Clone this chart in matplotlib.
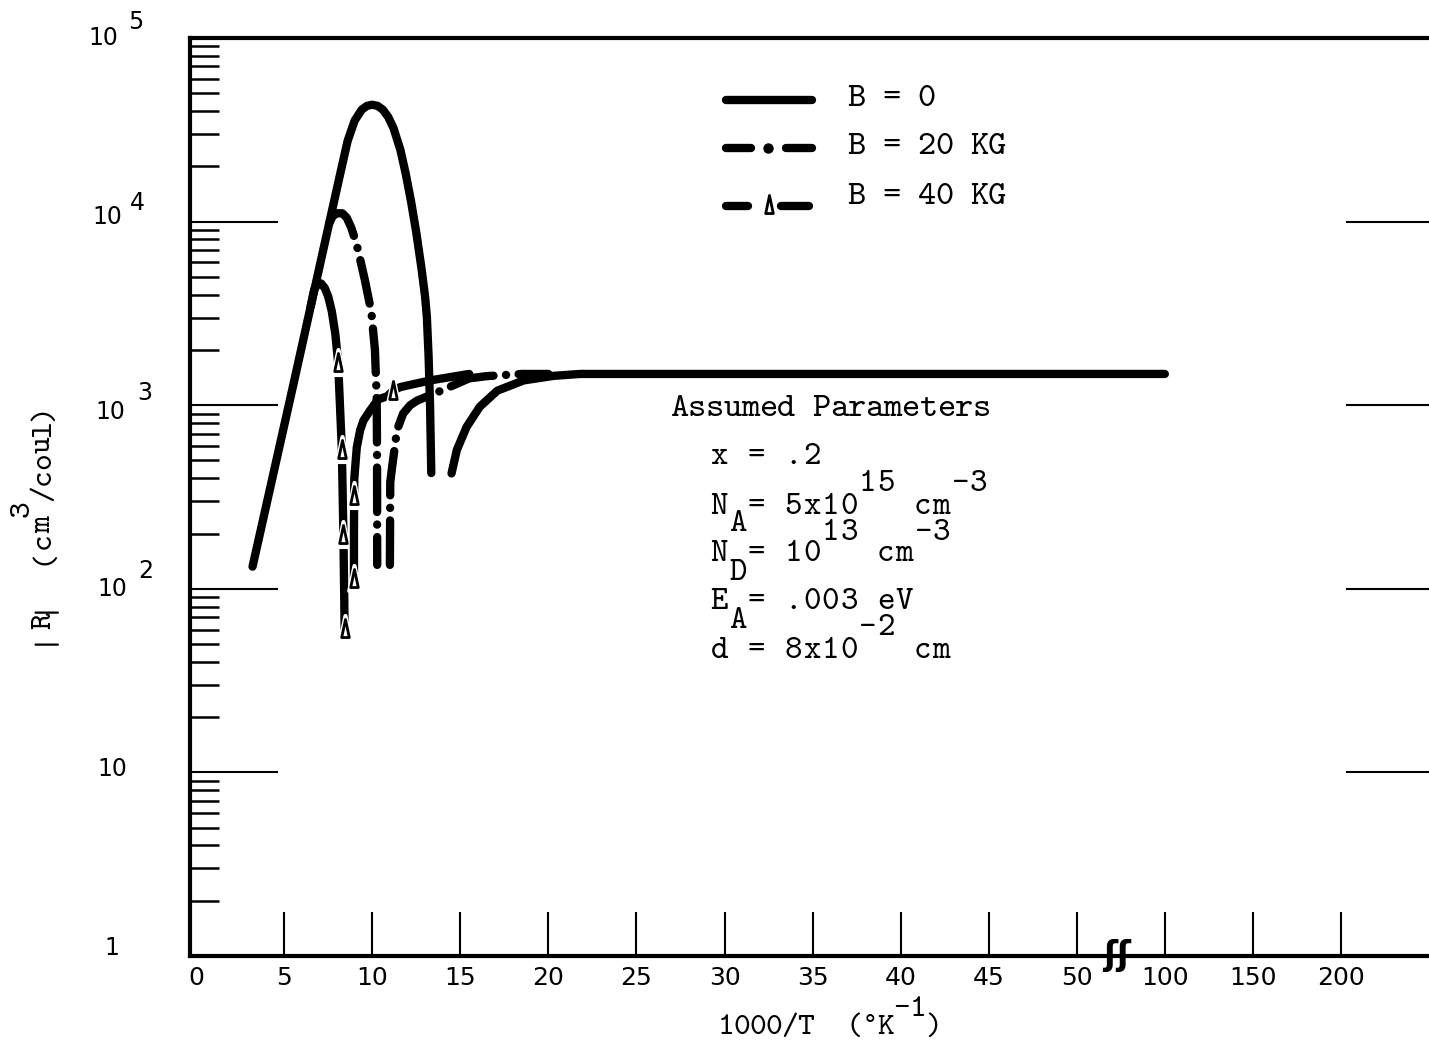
import numpy as np
import matplotlib.pyplot as plt
from matplotlib.path import Path
from matplotlib.ticker import LogLocator, NullFormatter
import matplotlib.transforms as mtransforms

plt.rcParams['lines.scale_dashes'] = False

W, H = 1429, 1044
TT = ['cmtt10', 'DejaVu Sans Mono']
SANS = 'DejaVu Sans'
LW = 6

# 1000/T (K^-1) and |R| (cm^3/coul)
x_b0 = [3.2, 5.45, 7.55, 8.2, 8.6, 9.0, 9.4, 9.7, 10.0, 10.3, 10.6, 10.9, 11.2, 11.6,
        11.9, 12.2, 12.5, 12.8, 13.0, 13.1, 13.2, 13.28, 13.35]
r_b0 = [132, 1210, 9770, 18600, 27500, 35500, 40700, 42700, 43300, 42700, 40700, 37200,
        32400, 24500, 18200, 12900, 8700, 5500, 3890, 3020, 1820, 1000, 427]
x_b0_low = [14.5, 14.8, 15.35, 16.1, 17.1, 18.6, 20.3, 21.8, 30, 50, 100]
r_b0_low = [425, 570, 760, 980, 1200, 1365, 1445, 1480, 1480, 1480, 1480]

x_b20 = [7.55, 7.75, 8.0, 8.3, 8.55, 8.8, 9.1, 9.35, 9.6, 9.95, 10.15, 10.25, 10.27, 10.28]
r_b20 = [9770, 10700, 11100, 11100, 10500, 9300, 7600, 6000, 4700, 3200, 2000, 1100, 560, 135]
x_b20_low = [11.0, 11.02, 11.1, 11.4, 11.75, 12.15, 12.55, 14.0, 15.5, 16.5, 18.5, 20.0]
r_b20_low = [135, 380, 440, 730, 900, 1000, 1060, 1210, 1400, 1440, 1480, 1480]

x_b40 = [6.5, 6.7, 6.9, 7.1, 7.3, 7.5, 7.7, 7.9, 8.06, 8.27, 8.36, 8.43]
r_b40 = [3450, 4250, 4600, 4600, 4350, 3900, 3250, 2450, 1710, 580, 200, 61]
tri_b40 = [8, 9, 10, 11]
x_b40_low = [8.96, 8.96, 8.97, 8.98, 9.12, 9.31, 9.5, 9.88, 10.33, 10.84, 11.2, 11.6, 13.3, 15.5]
r_b40_low = [115, 200, 324, 400, 589, 730, 826, 937, 1076, 1117, 1205, 1256, 1365, 1480]
tri_b40_low = [0, 2, 10]

xticks = [5, 10, 15, 20, 25, 30, 35, 40, 45, 50, 100, 150, 200]
decades = [1, 10, 100, 1000, 1e4, 1e5]


# axis is linear up to 50, then compressed 10x past the break
def fwd(x):
    x = np.asarray(x, dtype=float)
    return np.where(x <= 50, x, 50 + (x - 50) / 10.0)


def inv(u):
    u = np.asarray(u, dtype=float)
    return np.where(u <= 50, u, 50 + (u - 50) * 10.0)


tri = Path([(0, 1), (-0.42, -1), (0.42, -1), (0, 1)],
           [Path.MOVETO, Path.LINETO, Path.LINETO, Path.CLOSEPOLY])

fig = plt.figure(figsize=(W / 100, H / 100), dpi=100)
ax = fig.add_axes([190 / W, (H - 956) / H, (W - 190) / W, (956 - 38) / H])
ax.set_xscale('function', functions=(fwd, inv))
ax.set_yscale('log')
ax.set_xlim(-0.35, 250)
ax.set_ylim(1, 1e5)

# B = 0
for xs, rs in [(x_b0, r_b0), (x_b0_low, r_b0_low)]:
    ax.plot(xs, rs, color='k', lw=LW, solid_capstyle='round', solid_joinstyle='round')

# B = 20 KG
dashdot = (0, (32, 9, 0.1, 9))
for xs, rs in [(x_b20, r_b20), (x_b20_low, r_b20_low)]:
    ax.plot(xs, rs, color='k', lw=LW, linestyle=dashdot, dash_capstyle='round',
            dash_joinstyle='round')

# B = 40 KG
for xs, rs, idx in [(x_b40, r_b40, tri_b40), (x_b40_low, r_b40_low, tri_b40_low)]:
    ax.plot(xs, rs, color='k', lw=LW, solid_capstyle='round', solid_joinstyle='round')
    ax.plot(xs, rs, ls='none', marker=tri, ms=18, mfc='white', mec='white', mew=3, markevery=idx)
    ax.plot(xs, rs, ls='none', marker=tri, ms=13, mfc='white', mec='k', mew=2, markevery=idx)

for sp in ['left', 'top', 'bottom']:
    ax.spines[sp].set_linewidth(3)
ax.spines['right'].set_visible(False)

ax.yaxis.set_major_locator(LogLocator(base=10, numticks=10))
ax.yaxis.set_minor_locator(LogLocator(base=10, subs=range(2, 10), numticks=10))
ax.yaxis.set_minor_formatter(NullFormatter())
ax.tick_params(axis='y', which='major', direction='in', length=63, width=1.5,
               labelleft=False, right=False)
ax.tick_params(axis='y', which='minor', direction='in', length=21, width=1.8, right=False)

ax.set_xticks(xticks, labels=[str(t) for t in xticks])
ax.set_xticks([0], labels=['0'], minor=True)
ax.tick_params(axis='x', which='major', direction='in', length=32, width=1.5,
               labelsize=18, pad=7, top=False)
ax.tick_params(axis='x', which='minor', length=0, labelsize=18, pad=7, top=False)
for lab in ax.get_xticklabels(which='both'):
    lab.set_fontfamily(SANS)

# decade marks on the right edge
for d in decades[1:-1]:
    ax.axhline(d, xmin=0.934, xmax=1, color='k', lw=1.5)

# axis break
brk = mtransforms.blended_transform_factory(ax.transData, ax.transAxes)
ax.text(73, 0.0, 'ʃʃ', transform=brk, ha='center', va='center',
        fontsize=24, fontweight='bold', family=SANS)


def put(px, py, s, size=17, family=SANS):
    fig.text(px / W, 1 - py / H, s, ha='left', va='center', fontsize=size, family=family)


def typed(px0, base, s, pitch, size=24, rot=False):
    # one character per fixed-pitch cell, like a typewriter
    for i, ch in enumerate(s):
        if ch == ' ':
            continue
        fam = 'DejaVu Sans' if ch == '°' else TT
        fs = size * 0.8 if ch == '°' else size
        if rot:
            fig.text(base / W, 1 - (px0 - (i + 0.5) * pitch) / H, ch, rotation=90,
                     rotation_mode='anchor', ha='center', va='baseline',
                     fontsize=fs, family=fam)
        else:
            fig.text((px0 + (i + 0.5) * pitch) / W, 1 - base / H, ch, ha='center',
                     va='baseline', fontsize=fs, family=fam)


# y tick labels
ylab = [(88, 38, 128, 22, '5'), (92, 217, 130, 203, '4'), (95, 412, 137, 393, '3'),
        (97, 589, 138, 571, '2')]
for bx, by, sx, sy, e in ylab:
    put(bx, by, '10')
    put(sx, sy, e)
put(97, 769, '10')
put(104, 948, '1')

# axis titles
typed(718, 1034, '1000/T  (°K  )', 16, size=23)
typed(718, 1016, '           -1', 16, size=23)
typed(645, 50, '|R|  (cm', 16, size=23, rot=True)
typed(645, 29, '        3', 16, size=23, rot=True)
typed(645, 50, '         /coul)', 16, size=23, rot=True)


# legend
def ax_pt(px, py):
    return (px - 190) / (W - 190), (956 - py) / (956 - 38)


def seg(p0, p1, py):
    a = ax_pt(p0, py)
    b = ax_pt(p1, py)
    ax.plot([a[0], b[0]], [a[1], b[1]], transform=ax.transAxes, color='k', lw=LW,
            solid_capstyle='round', clip_on=False)


seg(726, 812, 100)
seg(726, 751, 148)
seg(786, 812, 148)
d = ax_pt(768, 148)
ax.plot([d[0]], [d[1]], transform=ax.transAxes, marker='o', ms=6.5, color='k')
seg(726, 748, 206)
seg(781, 809, 206)
t = ax_pt(769, 204)
ax.plot([t[0]], [t[1]], transform=ax.transAxes, marker=tri, ms=13, mfc='white',
        mec='k', mew=2)

typed(848, 106, 'B = 0', 17.5, size=25)
typed(848, 154, 'B = 20 KG', 17.5, size=25)
typed(848, 204, 'B = 40 KG', 17.5, size=25)

# parameter block
typed(670, 416, 'Assumed Parameters', 17.8, size=25)
typed(710, 464, 'x = .2', 18.5)
typed(710, 514, 'N = 5x10   cm', 18.5)
typed(710, 531, ' A', 18.5)
typed(710, 491, '        15   -3', 18.5)
typed(710, 561, 'N = 10   cm', 18.5)
typed(710, 580, ' D', 18.5)
typed(710, 540, '      13   -3', 18.5)
typed(710, 609, 'E = .003 eV', 18.5)
typed(710, 628, ' A', 18.5)
typed(710, 658, 'd = 8x10   cm', 18.5)
typed(710, 635, '        -2', 18.5)

fig.savefig('out.png', dpi=100)
